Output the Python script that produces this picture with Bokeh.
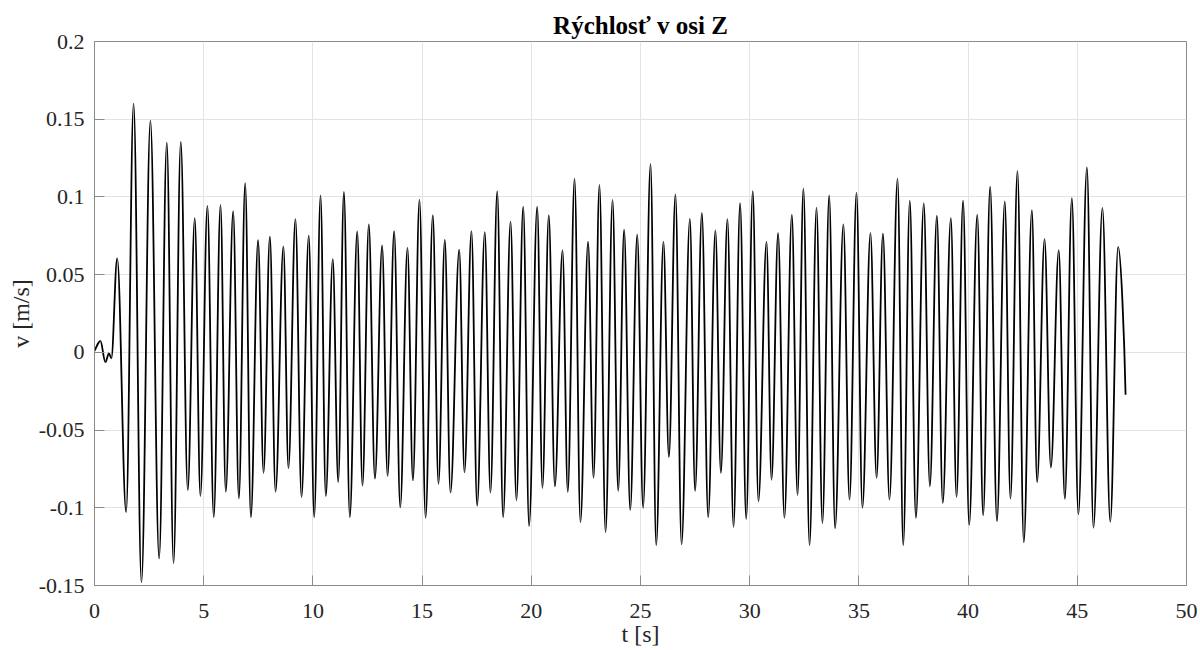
import numpy as np
from bokeh.plotting import figure
from bokeh.models import Range1d, FixedTicker, ColumnDataSource
from bokeh.embed import file_html
from bokeh.resources import INLINE

# ---- data: local extrema of the velocity signal ----
t_ext = [0.00, 0.27, 0.50, 0.66, 0.77, 1.04, 1.45, 1.79, 2.15, 2.56,
         2.96, 3.31, 3.62, 3.95, 4.27, 4.59, 4.85, 5.17, 5.46, 5.77,
         6.01, 6.35, 6.61, 6.90, 7.16, 7.49, 7.74, 8.03, 8.29, 8.65,
         8.88, 9.20, 9.48, 9.81, 10.06, 10.35, 10.59, 10.91, 11.16, 11.42,
         11.69, 12.03, 12.27, 12.56, 12.84, 13.17, 13.42, 13.72, 14.00, 14.33,
         14.58, 14.88, 15.16, 15.49, 15.75, 16.04, 16.30, 16.70, 16.94, 17.26,
         17.52, 17.87, 18.13, 18.44, 18.71, 19.05, 19.32, 19.63, 19.90, 20.27,
         20.51, 20.80, 21.08, 21.43, 21.67, 21.98, 22.25, 22.60, 22.85, 23.12,
         23.40, 23.72, 23.98, 24.25, 24.53, 24.85, 25.12, 25.46, 25.72, 26.05,
         26.30, 26.60, 26.88, 27.26, 27.50, 27.81, 28.10, 28.43, 28.68, 28.98,
         29.26, 29.56, 29.84, 30.14, 30.40, 30.77, 31.00, 31.30, 31.59, 31.93,
         32.19, 32.46, 32.74, 33.06, 33.33, 33.64, 33.91, 34.29, 34.57, 34.89,
         35.16, 35.53, 35.81, 36.10, 36.40, 36.77, 37.03, 37.33, 37.61, 37.97,
         38.25, 38.57, 38.84, 39.21, 39.47, 39.77, 40.05, 40.42, 40.69, 41.01,
         41.32, 41.68, 41.94, 42.26, 42.55, 42.92, 43.16, 43.50, 43.79, 44.15,
         44.43, 44.75, 45.05, 45.44, 45.74, 46.15, 46.51, 46.87, 47.21]

v_ext = [0.001, 0.0073, -0.0064, -0.0006, -0.0039, 0.0605, -0.1027, 0.160, -0.148, 0.149,
         -0.1326, 0.135, -0.1357, 0.1354, -0.0887, 0.0864, -0.0925, 0.0942, -0.106, 0.0949,
         -0.0898, 0.0909, -0.094, 0.1089, -0.106, 0.0722, -0.0775, 0.0744, -0.0898, 0.0681,
         -0.0745, 0.0857, -0.0932, 0.0751, -0.106, 0.101, -0.0925, 0.060, -0.0835, 0.1032,
         -0.106, 0.0778, -0.0858, 0.0823, -0.0813, 0.0688, -0.0795, 0.078, -0.0997, 0.0672,
         -0.0824, 0.0983, -0.1065, 0.0882, -0.0847, 0.0724, -0.0903, 0.0661, -0.0772, 0.078,
         -0.0986, 0.0774, -0.0903, 0.1037, -0.106, 0.0841, -0.0952, 0.0938, -0.1117, 0.0938,
         -0.0873, 0.0882, -0.0862, 0.0657, -0.0898, 0.1118, -0.1094, 0.0713, -0.0808, 0.1077,
         -0.1157, 0.0981, -0.0891, 0.0789, -0.1015, 0.0758, -0.100, 0.1212, -0.124, 0.0713,
         -0.0673, 0.1017, -0.1236, 0.0859, -0.0891, 0.0897, -0.106, 0.0785, -0.0775, 0.0857,
         -0.1123, 0.096, -0.1072, 0.1037, -0.0959, 0.0713, -0.082, 0.0767, -0.1065, 0.0886,
         -0.0918, 0.1055, -0.124, 0.0931, -0.1098, 0.101, -0.1132, 0.0823, -0.0948, 0.1028,
         -0.100, 0.0767, -0.0808, 0.0763, -0.0948, 0.1118, -0.124, 0.0976, -0.1065, 0.0958,
         -0.0862, 0.0879, -0.097, 0.0864, -0.0932, 0.0976, -0.111, 0.0886, -0.1049, 0.1066,
         -0.1087, 0.0972, -0.0941, 0.1167, -0.1222, 0.0915, -0.0835, 0.0729, -0.0741, 0.0657,
         -0.0943, 0.0992, -0.1042, 0.119, -0.1128, 0.0929, -0.109, 0.0679, -0.0273]

x_ticks = [0, 5, 10, 15, 20, 25, 30, 35, 40, 45, 50]
x_tick_labels = ["0", "5", "10", "15", "20", "25", "30", "35", "40", "45", "50"]
y_ticks = [-0.15, -0.1, -0.05, 0, 0.05, 0.1, 0.15, 0.2]
y_tick_labels = ["-0.15", "-0.1", "-0.05", "0", "0.05", "0.1", "0.15", "0.2"]

title_text = "Rýchlosť v osi Z"
x_label = "t [s]"
y_label = "v [m/s]"

FONT = "Liberation Serif"
AX = "#8a8a8a"
TXT = "#262626"

p = figure(width=1200, height=650, output_backend="svg", toolbar_location=None,
           x_range=Range1d(0, 50), y_range=Range1d(-0.15, 0.2),
           min_border_left=94, min_border_right=14, min_border_top=41,
           min_border_bottom=65, background_fill_color="white",
           border_fill_color="white")

p.title.text = title_text
p.title.align = "center"
p.title.text_font = FONT
p.title.text_font_size = "25px"
p.title.text_font_style = "bold"
p.title.text_color = "#000000"
p.title.standoff = 5

p.outline_line_color = AX
p.outline_line_width = 1

p.xaxis.ticker = FixedTicker(ticks=x_ticks)
p.yaxis.ticker = FixedTicker(ticks=y_ticks)
p.xaxis.major_label_overrides = dict(zip(x_ticks, x_tick_labels))
p.yaxis.major_label_overrides = dict(zip(y_ticks, y_tick_labels))
p.xaxis.axis_label = x_label
p.yaxis.axis_label = y_label

for ax in (p.xaxis[0], p.yaxis[0]):
    ax.axis_line_color = AX
    ax.major_tick_line_color = AX
    ax.major_tick_in = 10
    ax.major_tick_out = 0
    ax.minor_tick_line_color = None
    ax.major_label_text_font = FONT
    ax.major_label_text_font_size = "22px"
    ax.major_label_text_color = TXT
    ax.axis_label_text_font = FONT
    ax.axis_label_text_font_size = "24px"
    ax.axis_label_text_font_style = "normal"
    ax.axis_label_text_color = TXT

p.xaxis.major_label_standoff = 18
p.xaxis.axis_label_standoff = 0
p.yaxis.major_label_standoff = 10
p.yaxis.axis_label_standoff = 2

p.xgrid.ticker = FixedTicker(ticks=x_ticks)
p.ygrid.ticker = FixedTicker(ticks=y_ticks)
for g in (p.xgrid[0], p.ygrid[0]):
    g.grid_line_color = "#e3e3e3"
    g.grid_line_width = 1

# smooth curve between consecutive extrema (horizontal tangents at extrema)
t = np.array(t_ext)
v = np.array(v_ext)
x0, x1 = t[:-1], t[1:]
y0, y1 = v[:-1], v[1:]
dx = x1 - x0
a = 1 - 2 / np.pi
cx0 = x0 + a * dx
cy0 = y0.copy()
cx1 = x1 - a * dx
cy1 = y1.copy()
# final point is not an extremum: keep the curve heading into it steeply
cx1[-1] = x1[-1] - 0.15 * dx[-1]
cy1[-1] = y1[-1] + 0.35 * (y0[-1] - y1[-1])
# first point is not an extremum either
cx0[0] = x0[0] + 0.3 * dx[0]
cy0[0] = y0[0] + 0.3 * (y1[0] - y0[0])

src = ColumnDataSource(dict(x0=x0, y0=y0, x1=x1, y1=y1,
                            cx0=cx0, cy0=cy0, cx1=cx1, cy1=cy1))
p.bezier(x0="x0", y0="y0", x1="x1", y1="y1", cx0="cx0", cy0="cy0",
         cx1="cx1", cy1="cy1", source=src, line_color="black", line_width=1.8)

open("out.html", "w").write(file_html(p, INLINE))
